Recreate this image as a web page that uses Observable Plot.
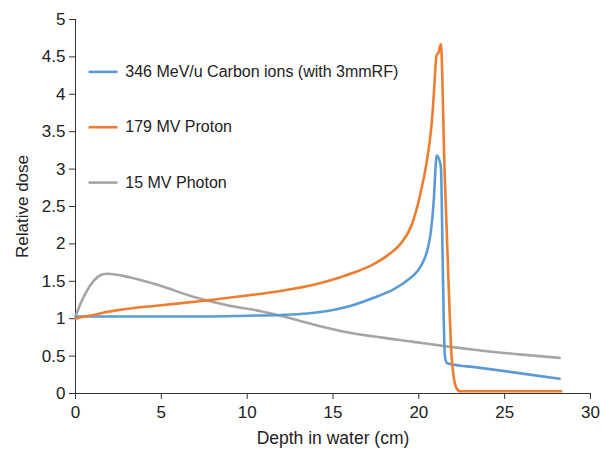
<!DOCTYPE html>
<html>
<head>
<meta charset="utf-8">
<script src="https://cdn.jsdelivr.net/npm/d3@7"></script>
<script src="https://cdn.jsdelivr.net/npm/@observablehq/plot@0.6"></script>
<style>
  html, body { margin: 0; padding: 0; background: #fff; }
  svg { font-family: "Liberation Sans", Arial, sans-serif; }
</style>
</head>
<body>
<div id="chart"></div>
<script>
// Series names
const seriesNames = ["346 MeV/u Carbon ions (with 3mmRF)", "179 MV Proton", "15 MV Photon"];
const seriesColors = ["#5b9bd5", "#ed7d31", "#a5a5a5"];
const xLabel = "Depth in water (cm)";
const yLabel = "Relative dose";

// Carbon ions: [depth cm, relative dose]
const carbonDepth = [0, 2, 5, 7.5, 10, 11.94, 13.5, 14.85, 16, 17.37, 18.5, 19.32, 19.9, 20.29, 20.5, 20.68, 20.87, 20.97, 21.03, 21.26, 21.3, 21.38, 21.45, 21.52, 21.64, 23.6, 28.2];
const carbonDose  = [1.03, 1.03, 1.03, 1.03, 1.04, 1.05, 1.07, 1.11, 1.17, 1.28, 1.39, 1.51, 1.63, 1.78, 1.92, 2.13, 2.58, 3.0, 3.18, 3.07, 2.95, 1.9, 1.0, 0.5, 0.405, 0.343, 0.197];

// Proton
const protonDepth = [0, 0.5, 1.07, 1.6, 2.62, 5, 7.5, 10, 11.94, 14, 15.43, 16.5, 17.37, 18.2, 18.93, 19.61, 20.09, 20.44, 20.66, 20.8, 20.9, 21.03, 21.15, 21.28, 21.5, 21.74, 21.9, 22.03, 22.2, 22.4, 25, 28.3];
const protonDose  = [1.0, 1.03, 1.05, 1.08, 1.12, 1.18, 1.24, 1.31, 1.37, 1.46, 1.555, 1.64, 1.73, 1.85, 2.0, 2.27, 2.67, 3.07, 3.42, 3.75, 4.1, 4.52, 4.56, 4.67, 2.98, 1.42, 0.53, 0.22, 0.07, 0.03, 0.03, 0.03];

// Photon
const photonDepth = [0, 0.29, 0.68, 1.07, 1.55, 1.84, 3.2, 4.95, 6.9, 8.85, 10.8, 11.94, 13.9, 15.82, 17.76, 19.7, 21.6, 23.6, 26, 28.2];
const photonDose  = [1.03, 1.2, 1.38, 1.51, 1.59, 1.6, 1.55, 1.44, 1.29, 1.18, 1.10, 1.04, 0.92, 0.82, 0.75, 0.69, 0.63, 0.575, 0.52, 0.476];

const xTicks = [0, 5, 10, 15, 20, 25, 30];
const yTicks = [0, 0.5, 1, 1.5, 2, 2.5, 3, 3.5, 4, 4.5, 5];

const toRows = (name, xs, ys) => xs.map((x, i) => ({series: name, depth: x, dose: ys[i]}));
const rows = [
  ...toRows(seriesNames[0], carbonDepth, carbonDose),
  ...toRows(seriesNames[1], protonDepth, protonDose),
  ...toRows(seriesNames[2], photonDepth, photonDose)
];

// legend layout (in data units)
const legendX1 = 0.76, legendX2 = 2.45, legendTextX = 2.9, legendTop = 4.30, legendStep = 0.74;
const legendRows = seriesNames.map((name, i) => ({series: name, y: legendTop - i * legendStep}));

const axisColor = "#333";
const chart = Plot.plot({
  width: 604,
  height: 455,
  marginLeft: 75,
  marginRight: 14,
  marginTop: 19,
  marginBottom: 62,
  style: {fontSize: "17px", fontFamily: "'Liberation Sans', Arial, sans-serif", color: "#222", background: "#fff"},
  x: {domain: [0, 30]},
  y: {domain: [0, 5]},
  color: {domain: seriesNames, range: seriesColors},
  marks: [
    Plot.axisX({ticks: xTicks, tickSize: 6, tickPadding: 6, tickFormat: d => String(d), stroke: axisColor, label: null}),
    Plot.text([xLabel], {frameAnchor: "bottom", dy: 45, text: d => d, lineAnchor: "middle", fontSize: 17.5, fill: "#222"}),
    Plot.axisY({ticks: yTicks, tickSize: 6, tickPadding: 4, tickFormat: d => String(d), stroke: axisColor,
      label: yLabel, labelAnchor: "center", labelOffset: 60, labelArrow: "none"}),
    Plot.ruleX([0], {stroke: axisColor, strokeWidth: 1}),
    Plot.ruleY([0], {stroke: axisColor, strokeWidth: 1}),
    Plot.line(rows.filter(d => d.series === seriesNames[2]), {x: "depth", y: "dose", stroke: "series", strokeWidth: 2.6, curve: "monotone-x"}),
    Plot.line(rows.filter(d => d.series === seriesNames[0]), {x: "depth", y: "dose", stroke: "series", strokeWidth: 2.6, curve: "monotone-x"}),
    Plot.line(rows.filter(d => d.series === seriesNames[1]), {x: "depth", y: "dose", stroke: "series", strokeWidth: 2.6, curve: "monotone-x"}),
    Plot.link(legendRows, {x1: () => legendX1, x2: () => legendX2, y1: "y", y2: "y", stroke: "series", strokeWidth: 2.6}),
    Plot.text(legendRows, {x: () => legendTextX, y: "y", text: "series", textAnchor: "start", fontSize: 16, fill: "#222"})
  ]
});
document.getElementById("chart").appendChild(chart);
</script>
</body>
</html>
